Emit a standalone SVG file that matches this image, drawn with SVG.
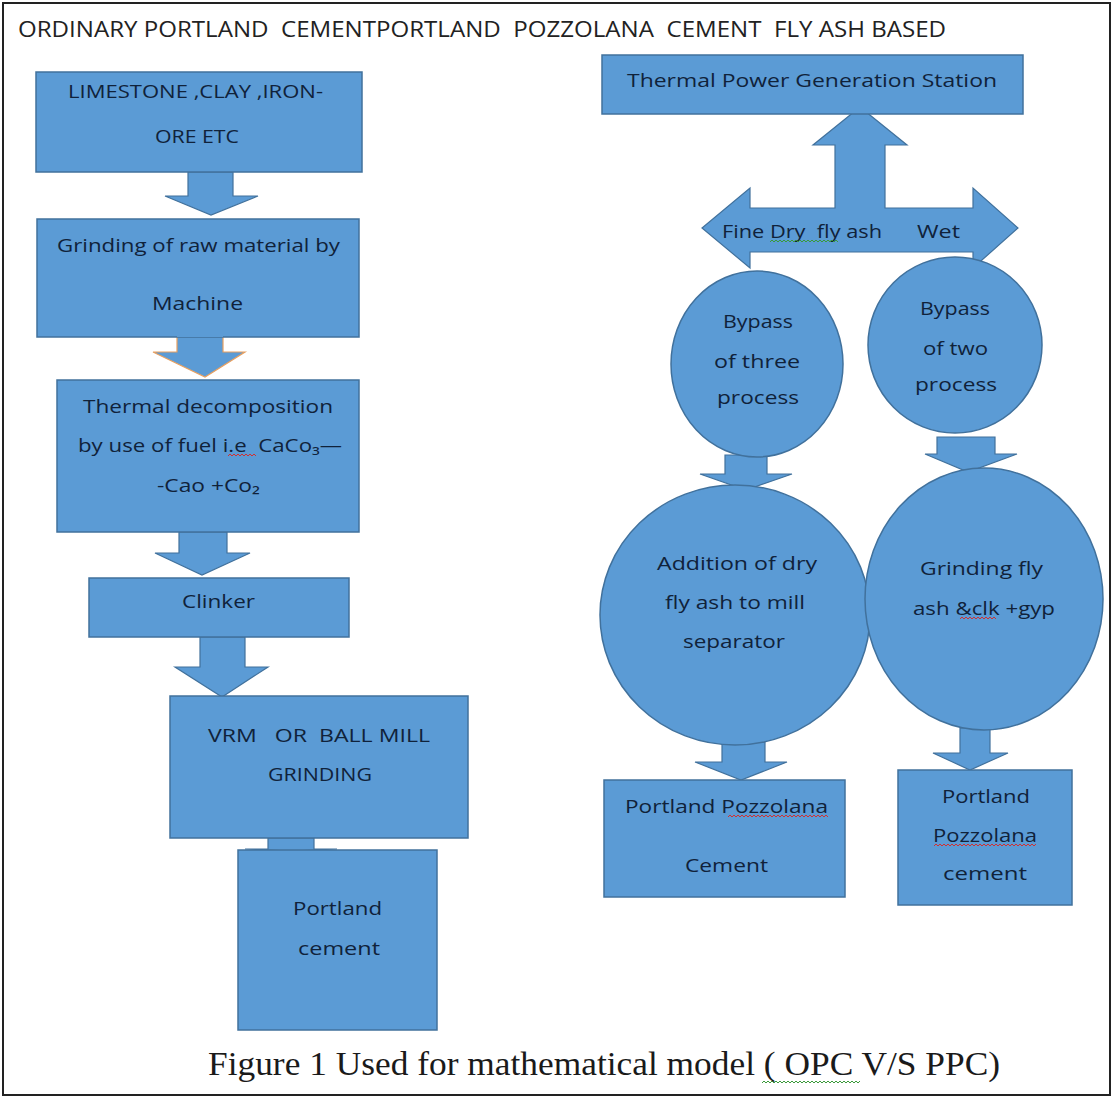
<svg xmlns="http://www.w3.org/2000/svg" width="1114" height="1099" viewBox="0 0 1114 1099">
<style>
.bx{fill:#5b9bd5;stroke:#41719c;stroke-width:1.5}
.ar{fill:#5b9bd5;stroke:#41719c;stroke-width:1.2}
.t{font-family:"Open Sans","Liberation Sans",sans-serif;font-size:19px;fill:#10223a;white-space:pre}
.sq{fill:none;stroke-width:1}
</style>
<rect x="3" y="3" width="1107" height="1092" fill="#ffffff" stroke="#222" stroke-width="2"/>
<text xml:space="preserve" x="18" y="37" class="t" style="font-size:21px;fill:#222" textLength="928" lengthAdjust="spacingAndGlyphs">ORDINARY PORTLAND  CEMENTPORTLAND  POZZOLANA  CEMENT  FLY ASH BASED</text>

<g id="connectors">
<path class="ar" d="M188 172H233V196H258L211 215L165 196H188Z"/>
<path class="ar" d="M177 323H223V352H245L205 377L153 352H177Z" style="stroke:#e8a060"/>
<path class="ar" d="M179 532H227V553H250L202 575L155 553H179Z"/>
<path class="ar" d="M200 637H245V667H268L222 697L175 667H200Z"/>
<path class="ar" d="M268 838H314V849H337L291 851L245 849H268Z"/>
<path class="ar" d="M860 107L907 145H885V208H973V188L1018 228L973 268V252H750V268L702 228L750 188V208H835V145H813Z"/>
<path class="ar" d="M725 455H767V474H792L746 490L700 474H725Z"/>
<path class="ar" d="M937 437H995V454H1017L968 472L925 454H937Z"/>
<path class="ar" d="M722 742H765V762H787L741 780L695 762H722Z"/>
<path class="ar" d="M960 728H990V753H1008L970 770L933 753H960Z"/>
</g>

<g id="n1"><rect class="bx" x="36" y="72" width="326" height="100"/>
<text class="t" x="68" y="98" textLength="255" lengthAdjust="spacingAndGlyphs">LIMESTONE ,CLAY ,IRON-</text>
<text class="t" x="155" y="143" textLength="84" lengthAdjust="spacingAndGlyphs">ORE ETC</text></g>

<g id="n2"><rect class="bx" x="37" y="219" width="322" height="118"/>
<text class="t" x="57" y="252" textLength="283" lengthAdjust="spacingAndGlyphs">Grinding of raw material by</text>
<text class="t" x="152" y="310" textLength="91" lengthAdjust="spacingAndGlyphs">Machine</text></g>

<path d="M177 323H223V337H177Z" style="stroke:none;fill:#5b9bd5"/>

<g id="n3"><rect class="bx" x="57" y="380" width="302" height="152"/>
<text class="t" x="83" y="413" textLength="250" lengthAdjust="spacingAndGlyphs">Thermal decomposition</text>
<text xml:space="preserve" class="t" x="78" y="452" textLength="264" lengthAdjust="spacingAndGlyphs">by use of fuel i.e  CaCo₃—</text>
<text class="t" x="157" y="492" textLength="103" lengthAdjust="spacingAndGlyphs">-Cao +Co₂</text></g>

<g id="n4"><rect class="bx" x="89" y="578" width="260" height="59"/>
<text class="t" x="182" y="608" textLength="73" lengthAdjust="spacingAndGlyphs">Clinker</text></g>

<g id="n5"><rect class="bx" x="170" y="696" width="298" height="142"/>
<text xml:space="preserve" class="t" x="208" y="742" textLength="222" lengthAdjust="spacingAndGlyphs">VRM   OR  BALL MILL</text>
<text class="t" x="268" y="781" textLength="104" lengthAdjust="spacingAndGlyphs">GRINDING</text></g>

<g id="n6"><rect class="bx" x="238" y="850" width="199" height="180"/>
<text class="t" x="293" y="915" textLength="89" lengthAdjust="spacingAndGlyphs">Portland</text>
<text class="t" x="298" y="955" textLength="82" lengthAdjust="spacingAndGlyphs">cement</text></g>

<g id="n7"><rect class="bx" x="602" y="55" width="421" height="59"/>
<text class="t" x="627" y="87" textLength="370" lengthAdjust="spacingAndGlyphs">Thermal Power Generation Station</text></g>

<g id="n8">
<text xml:space="preserve" class="t" x="722" y="238" textLength="160" lengthAdjust="spacingAndGlyphs">Fine Dry  fly ash</text>
<text class="t" x="917" y="238" textLength="43" lengthAdjust="spacingAndGlyphs">Wet</text></g>

<g id="n9"><ellipse class="bx" cx="757" cy="364" rx="86" ry="93"/>
<text class="t" x="723" y="328" textLength="70" lengthAdjust="spacingAndGlyphs">Bypass</text>
<text class="t" x="714" y="368" textLength="86" lengthAdjust="spacingAndGlyphs">of three</text>
<text class="t" x="717" y="404" textLength="82" lengthAdjust="spacingAndGlyphs">process</text></g>

<g id="n10"><ellipse class="bx" cx="955" cy="345" rx="87" ry="88"/>
<text class="t" x="920" y="315" textLength="70" lengthAdjust="spacingAndGlyphs">Bypass</text>
<text class="t" x="923" y="355" textLength="65" lengthAdjust="spacingAndGlyphs">of two</text>
<text class="t" x="915" y="391" textLength="82" lengthAdjust="spacingAndGlyphs">process</text></g>

<g id="n11"><ellipse class="bx" cx="735" cy="615" rx="135" ry="130"/>
<text class="t" x="657" y="570" textLength="160" lengthAdjust="spacingAndGlyphs">Addition of dry</text>
<text class="t" x="665" y="609" textLength="140" lengthAdjust="spacingAndGlyphs">fly ash to mill</text>
<text class="t" x="683" y="648" textLength="102" lengthAdjust="spacingAndGlyphs">separator</text></g>

<g id="n12"><ellipse class="bx" cx="984" cy="599" rx="119" ry="131"/>
<text class="t" x="920" y="575" textLength="123" lengthAdjust="spacingAndGlyphs">Grinding fly</text>
<text class="t" x="913" y="615" textLength="142" lengthAdjust="spacingAndGlyphs">ash &amp;clk +gyp</text></g>

<g id="n13"><rect class="bx" x="604" y="780" width="241" height="117"/>
<text class="t" x="625" y="813" textLength="203" lengthAdjust="spacingAndGlyphs">Portland Pozzolana</text>
<text class="t" x="685" y="872" textLength="83" lengthAdjust="spacingAndGlyphs">Cement</text></g>

<g id="n14"><rect class="bx" x="898" y="770" width="174" height="135"/>
<text class="t" x="942" y="803" textLength="88" lengthAdjust="spacingAndGlyphs">Portland</text>
<text class="t" x="933" y="842" textLength="104" lengthAdjust="spacingAndGlyphs">Pozzolana</text>
<text class="t" x="943" y="880" textLength="84" lengthAdjust="spacingAndGlyphs">cement</text></g>

<g id="squiggles">
<polyline class="sq" stroke="#d03030" points="228,456 230,454 232,456 234,454 236,456 238,454 240,456 242,454 244,456 246,454 248,456 250,454 252,456 254,454 256,456"/>
<polyline class="sq" stroke="#d03030" points="728,817 730,815 732,817 734,815 736,817 738,815 740,817 742,815 744,817 746,815 748,817 750,815 752,817 754,815 756,817 758,815 760,817 762,815 764,817 766,815 768,817 770,815 772,817 774,815 776,817 778,815 780,817 782,815 784,817 786,815 788,817 790,815 792,817 794,815 796,817 798,815 800,817 802,815 804,817 806,815 808,817 810,815 812,817 814,815 816,817 818,815 820,817 822,815 824,817 826,815 828,817"/>
<polyline class="sq" stroke="#d03030" points="934,846 936,844 938,846 940,844 942,846 944,844 946,846 948,844 950,846 952,844 954,846 956,844 958,846 960,844 962,846 964,844 966,846 968,844 970,846 972,844 974,846 976,844 978,846 980,844 982,846 984,844 986,846 988,844 990,846 992,844 994,846 996,844 998,846 1000,844 1002,846 1004,844 1006,846 1008,844 1010,846 1012,844 1014,846 1016,844 1018,846 1020,844 1022,846 1024,844 1026,846 1028,844 1030,846 1032,844 1034,846 1036,844"/>
<polyline class="sq" stroke="#d03030" points="960,619 962,617 964,619 966,617 968,619 970,617 972,619 974,617 976,619 978,617 980,619 982,617 984,619 986,617 988,619 990,617 992,619 994,617 996,619"/>
<polyline class="sq" stroke="#3a9a3a" points="770,242 772,240 774,242 776,240 778,242 780,240 782,242 784,240 786,242 788,240 790,242 792,240 794,242 796,240 798,242 800,240 802,242 804,240 806,242 808,240 810,242 812,240 814,242 816,240 818,242 820,240 822,242 824,240 826,242 828,240 830,242 832,240 834,242 836,240 838,242"/>
<polyline class="sq" stroke="#3a9a3a" points="762,1083 764,1081 766,1083 768,1081 770,1083 772,1081 774,1083 776,1081 778,1083 780,1081 782,1083 784,1081 786,1083 788,1081 790,1083 792,1081 794,1083 796,1081 798,1083 800,1081 802,1083 804,1081 806,1083 808,1081 810,1083 812,1081 814,1083 816,1081 818,1083 820,1081 822,1083 824,1081 826,1083 828,1081 830,1083 832,1081 834,1083 836,1081 838,1083 840,1081 842,1083 844,1081 846,1083 848,1081 850,1083 852,1081 854,1083 856,1081 858,1083 860,1081"/>
</g>

<text x="208" y="1075" style="font-family:'Liberation Serif',serif;font-size:33px;fill:#1a1a1a" textLength="792" lengthAdjust="spacingAndGlyphs">Figure 1 Used for mathematical model ( OPC V/S PPC)</text>
</svg>
